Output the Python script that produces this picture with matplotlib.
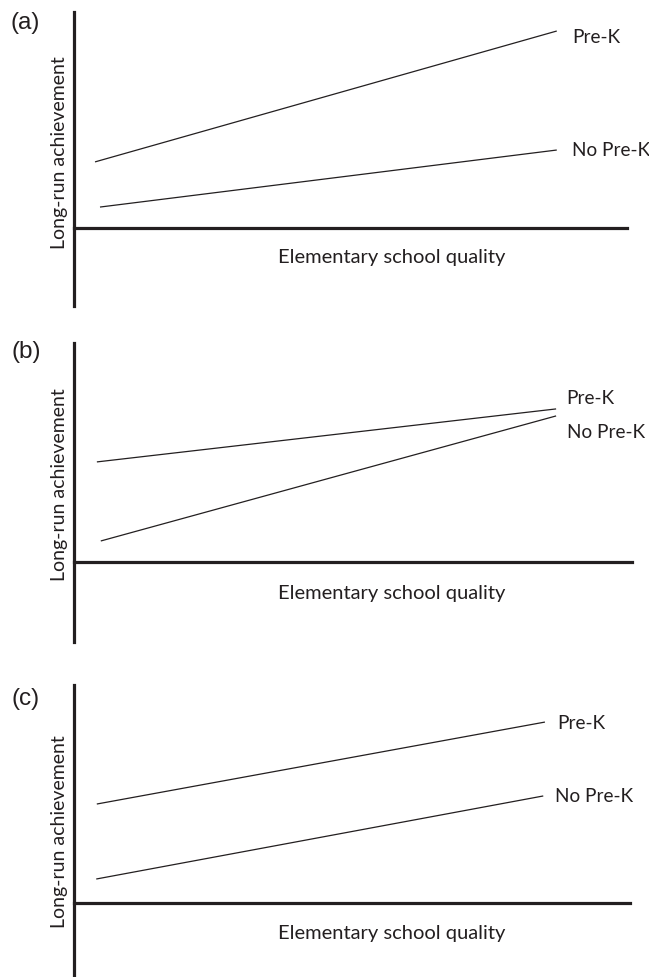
import matplotlib
matplotlib.use("Agg")
import matplotlib.pyplot as plt

# Conceptual model panels: long-run achievement vs elementary school quality
panel_tags = ["(a)", "(b)", "(c)"]
series_names = ["Pre-K", "No Pre-K"]

# x: start/end of each line on the quality scale (0-10)
prek_x = [[0.38, 8.73], [0.41, 8.64], [0.41, 8.47]]
noprek_x = [[0.47, 8.73], [0.48, 8.64], [0.40, 8.44]]
# y: start/end of each line on the achievement scale (axis top = 10)
prek_y = [[3.06, 9.12], [4.57, 6.99], [4.54, 8.30]]
noprek_y = [[0.97, 3.61], [0.96, 6.67], [1.10, 4.91]]

xlabel = "Elementary school quality"
ylabel = "Long-run achievement"

W, H = 649, 977
DPI = 100
plt.rcParams["font.family"] = ["Lato", "DejaVu Sans"]
ink = "#231f20"

fig = plt.figure(figsize=(W / DPI, H / DPI), dpi=DPI)

# pixel boxes: left, right, top, bottom, x-axis row
boxes = [(74, 627, 12, 306, 228), (74, 632, 343, 642, 562), (74, 630, 685, 977, 903)]
tag_pos = [(25, 23), (26, 352), (26, 699)]
ylab_y = [153, 485, 832]
xlab_y = [257, 593, 933]
label_off = [((15, -6), (15, 0)), ((10, 10), (11, -17)), ((12, -1), (12, -1))]

fs_lab = 13.7
fs_ax = 14.5
for i in range(3):
    l, r, t, b, ax_row = boxes[i]
    ax = fig.add_axes([l / W, 1 - b / H, (r - l) / W, (b - t) / H])
    ybot = -(b - ax_row) / (ax_row - t) * 10
    ax.set_xlim(0, 10)
    ax.set_ylim(ybot, 10)
    ax.patch.set_visible(False)
    for s in ("top", "right"):
        ax.spines[s].set_visible(False)
    ax.spines["left"].set_linewidth(2.3)
    ax.spines["bottom"].set_linewidth(2.3)
    ax.spines["left"].set_color(ink)
    ax.spines["bottom"].set_color(ink)
    ax.spines["bottom"].set_position(("data", 0))
    ax.set_xticks([])
    ax.set_yticks([])

    ax.plot(prek_x[i], prek_y[i], color=ink, lw=0.9, solid_capstyle="butt")
    ax.plot(noprek_x[i], noprek_y[i], color=ink, lw=0.9, solid_capstyle="butt")

    for name, xs, ys, off in zip(series_names, (prek_x[i], noprek_x[i]),
                                 (prek_y[i], noprek_y[i]), label_off[i]):
        ax.annotate(name, xy=(xs[1], ys[1]), xytext=off, textcoords="offset pixels",
                    ha="left", va="center", fontsize=fs_lab, color=ink)

    # axis titles
    fig.text(392 / W, 1 - xlab_y[i] / H, xlabel, ha="center", va="center",
             fontsize=fs_ax, color=ink)
    fig.text(60 / W, 1 - ylab_y[i] / H, ylabel, ha="center", va="center",
             rotation=90, fontsize=fs_ax - 0.5, color=ink)
    fig.text(tag_pos[i][0] / W, 1 - tag_pos[i][1] / H, panel_tags[i], ha="center",
             va="center", fontsize=17.5, color=ink, family="Liberation Sans")

fig.savefig("out.png", dpi=DPI)
